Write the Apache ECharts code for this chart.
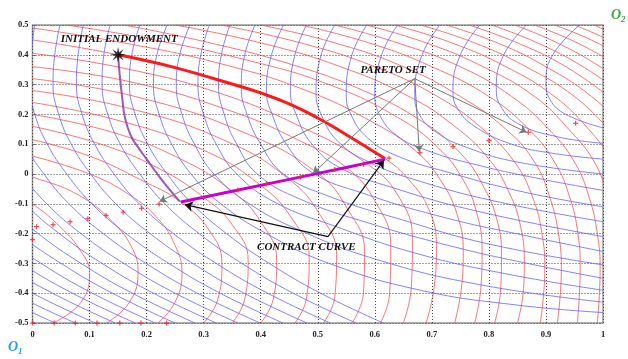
<!DOCTYPE html>
<html>
<head>
<meta charset="utf-8">
<script src="https://cdn.jsdelivr.net/npm/echarts@6/dist/echarts.min.js"></script>
<style>
  html, body { margin: 0; padding: 0; background: #fff; }
  #chart { width: 628px; height: 359px; }
</style>
</head>
<body>
<div id="chart"></div>
<script>
// ---- data ----
// red indifference curves (agent 2), each a list of [x, y] points
const redCurves = [
  [[-0.05,-0.04],[0,-0.1],[0.05,-0.18],[0.085,-0.26],[0.1,-0.33],[0.085,-0.43],[0.036,-0.5]],
  [[-0.05,0.02],[0,-0.01],[0.08,-0.07],[0.14,-0.16],[0.175,-0.25],[0.185,-0.33],[0.17,-0.43],[0.13,-0.5]],
  [[0,0.06],[0.1,0],[0.17,-0.07],[0.22,-0.15],[0.25,-0.24],[0.262,-0.33],[0.25,-0.43],[0.22,-0.5]],
  [[0,0.115],[0.1,0.06],[0.19,-0.02],[0.26,-0.094],[0.31,-0.19],[0.332,-0.3],[0.325,-0.42],[0.3,-0.5]],
  [[0,0.16],[0.12,0.1],[0.22,0.02],[0.3,-0.078],[0.35,-0.17],[0.378,-0.29],[0.372,-0.42],[0.35,-0.5]],
  [[0,0.2],[0.14,0.14],[0.26,0.05],[0.35,-0.058],[0.4,-0.16],[0.428,-0.29],[0.422,-0.42],[0.4,-0.5]],
  [[0,0.24],[0.15,0.18],[0.3,0.08],[0.4,-0.038],[0.455,-0.15],[0.485,-0.28],[0.48,-0.42],[0.46,-0.5]],
  [[0,0.28],[0.17,0.22],[0.34,0.11],[0.45,-0.018],[0.505,-0.14],[0.533,-0.27],[0.53,-0.41],[0.51,-0.5]],
  [[0,0.32],[0.18,0.26],[0.37,0.14],[0.5,0.002],[0.553,-0.12],[0.582,-0.26],[0.58,-0.4],[0.56,-0.5]],
  [[0,0.36],[0.17,0.31],[0.35,0.21],[0.47,0.11],[0.55,0.022],[0.6,-0.09],[0.628,-0.24],[0.626,-0.4],[0.61,-0.5]],
  [[0,0.405],[0.16,0.355],[0.33,0.27],[0.48,0.15],[0.585,0.036],[0.64,-0.07],[0.666,-0.22],[0.664,-0.38],[0.65,-0.5]],
  [[0,0.45],[0.15,0.4],[0.3,0.33],[0.45,0.235],[0.55,0.13],[0.618,0.052],[0.66,-0.02],[0.695,-0.12],[0.708,-0.24],[0.704,-0.38],[0.69,-0.5]],
  [[0,0.49],[0.16,0.44],[0.33,0.37],[0.48,0.28],[0.6,0.17],[0.67,0.08],[0.715,-0.02],[0.745,-0.14],[0.755,-0.26],[0.752,-0.38],[0.74,-0.5]],
  [[0.06,0.5],[0.2,0.455],[0.37,0.385],[0.52,0.3],[0.64,0.19],[0.71,0.09],[0.755,-0.02],[0.78,-0.14],[0.788,-0.26],[0.786,-0.38],[0.775,-0.5]],
  [[0.16,0.5],[0.3,0.445],[0.45,0.37],[0.58,0.28],[0.68,0.18],[0.75,0.07],[0.79,-0.04],[0.815,-0.16],[0.822,-0.28],[0.82,-0.4],[0.81,-0.5]],
  [[0.25,0.5],[0.4,0.44],[0.54,0.36],[0.66,0.26],[0.74,0.16],[0.8,0.05],[0.835,-0.06],[0.856,-0.18],[0.862,-0.3],[0.86,-0.4],[0.85,-0.5]],
  [[0.33,0.5],[0.47,0.44],[0.6,0.36],[0.71,0.26],[0.79,0.15],[0.845,0.04],[0.877,-0.08],[0.893,-0.2],[0.898,-0.32],[0.89,-0.5]],
  [[0.4,0.5],[0.53,0.44],[0.65,0.36],[0.75,0.26],[0.83,0.15],[0.88,0.04],[0.907,-0.08],[0.922,-0.2],[0.927,-0.32],[0.92,-0.5]],
  [[0.47,0.5],[0.59,0.44],[0.7,0.36],[0.8,0.26],[0.87,0.15],[0.915,0.04],[0.942,-0.08],[0.956,-0.2],[0.96,-0.32],[0.955,-0.5]],
  [[0.53,0.5],[0.64,0.44],[0.75,0.36],[0.84,0.26],[0.905,0.15],[0.95,0.04],[0.976,-0.08],[0.99,-0.2],[0.995,-0.32],[0.99,-0.5]],
  [[0.585,0.5],[0.69,0.44],[0.79,0.36],[0.88,0.26],[0.94,0.15],[0.985,0.04],[1.01,-0.08]],
  [[0.635,0.5],[0.735,0.44],[0.83,0.36],[0.915,0.26],[0.975,0.15],[1.02,0.04]],
  [[0.68,0.5],[0.775,0.44],[0.865,0.36],[0.95,0.26],[1.01,0.15]],
  [[0.725,0.5],[0.815,0.44],[0.9,0.36],[0.98,0.26],[1.04,0.15]],
  [[0.765,0.5],[0.85,0.44],[0.935,0.36],[1.01,0.26]],
  [[0.805,0.5],[0.885,0.44],[0.965,0.36],[1.04,0.26]],
  [[0.845,0.5],[0.92,0.44],[0.995,0.36],[1.07,0.26]],
  [[0.88,0.5],[0.955,0.44],[1.03,0.36]],
  [[0.915,0.5],[0.99,0.44],[1.06,0.36]],
  [[0.95,0.5],[1.02,0.44],[1.09,0.36]],
  [[0.985,0.5],[1.05,0.44]]
];

// blue indifference curves (agent 1)
const blueCurves = [
  [[0.959,0.5],[0.912,0.4],[0.9,0.31],[0.907,0.25],[0.935,0.2],[1.0,0.155]],
  [[0.866,0.5],[0.826,0.4],[0.813,0.29],[0.82,0.23],[0.85,0.17],[0.92,0.125],[1.0,0.103]],
  [[0.784,0.5],[0.75,0.4],[0.737,0.28],[0.745,0.22],[0.775,0.16],[0.84,0.1],[0.91,0.07],[1.0,0.05]],
  [[0.714,0.5],[0.683,0.4],[0.67,0.27],[0.678,0.2],[0.708,0.14],[0.76,0.09],[0.85,0.04],[1.0,0]],
  [[0.64,0.5],[0.612,0.4],[0.6,0.27],[0.608,0.2],[0.638,0.13],[0.69,0.08],[0.78,0.03],[0.9,-0.02],[1.0,-0.055]],
  [[0.586,0.5],[0.56,0.4],[0.55,0.27],[0.558,0.2],[0.588,0.12],[0.64,0.06],[0.73,0.005],[0.86,-0.06],[1.0,-0.11]],
  [[0.53,0.5],[0.506,0.4],[0.497,0.27],[0.506,0.2],[0.535,0.11],[0.59,0.04],[0.68,-0.025],[0.82,-0.095],[1.0,-0.16]],
  [[0.48,0.5],[0.46,0.4],[0.452,0.28],[0.462,0.2],[0.49,0.1],[0.54,0.02],[0.63,-0.045],[0.78,-0.125],[1.0,-0.21]],
  [[0.44,0.5],[0.419,0.4],[0.41,0.28],[0.42,0.2],[0.445,0.1],[0.49,0.005],[0.58,-0.065],[0.72,-0.145],[0.86,-0.205],[1.0,-0.26]],
  [[0.39,0.5],[0.372,0.4],[0.366,0.29],[0.376,0.2],[0.4,0.1],[0.44,0],[0.52,-0.075],[0.65,-0.155],[0.8,-0.235],[1.0,-0.305]],
  [[0.346,0.5],[0.331,0.4],[0.326,0.3],[0.336,0.2],[0.358,0.1],[0.394,0],[0.47,-0.085],[0.59,-0.165],[0.74,-0.245],[0.88,-0.305],[1.0,-0.35]],
  [[0.31,0.5],[0.295,0.4],[0.29,0.3],[0.3,0.2],[0.322,0.1],[0.358,0],[0.425,-0.095],[0.53,-0.175],[0.67,-0.265],[0.83,-0.335],[1.0,-0.39]],
  [[0.276,0.5],[0.258,0.4],[0.252,0.3],[0.262,0.2],[0.284,0.1],[0.318,0],[0.38,-0.1],[0.47,-0.19],[0.6,-0.285],[0.78,-0.37],[1.0,-0.43]],
  [[0.236,0.5],[0.218,0.4],[0.212,0.3],[0.222,0.2],[0.244,0.1],[0.278,0],[0.33,-0.1],[0.41,-0.2],[0.52,-0.3],[0.68,-0.39],[0.85,-0.44],[1.0,-0.465]],
  [[0.188,0.5],[0.174,0.4],[0.17,0.3],[0.18,0.2],[0.202,0.1],[0.236,0],[0.28,-0.1],[0.34,-0.2],[0.415,-0.3],[0.505,-0.4],[0.615,-0.5]],
  [[0.136,0.5],[0.125,0.4],[0.122,0.3],[0.132,0.2],[0.154,0.1],[0.188,0],[0.232,-0.1],[0.292,-0.2],[0.367,-0.3],[0.457,-0.4],[0.567,-0.5]],
  [[0.089,0.5],[0.08,0.4],[0.077,0.3],[0.087,0.2],[0.109,0.1],[0.143,0],[0.187,-0.1],[0.247,-0.2],[0.322,-0.3],[0.412,-0.4],[0.522,-0.5]],
  [[0.048,0.5],[0.039,0.4],[0.036,0.3],[0.046,0.2],[0.068,0.1],[0.102,0],[0.146,-0.1],[0.206,-0.2],[0.281,-0.3],[0.371,-0.4],[0.481,-0.5]],
  [[0.004,0.5],[-0.003,0.4],[-0.006,0.3],[0.004,0.2],[0.026,0.1],[0.06,0],[0.104,-0.1],[0.164,-0.2],[0.239,-0.3],[0.329,-0.4],[0.439,-0.5]],
  [[-0.046,0.3],[-0.036,0.2],[-0.014,0.1],[0.02,0],[0.064,-0.1],[0.124,-0.2],[0.199,-0.3],[0.289,-0.4],[0.399,-0.5]],
  [[-0.075,0.2],[-0.053,0.1],[-0.019,0],[0.025,-0.1],[0.085,-0.2],[0.16,-0.3],[0.25,-0.4],[0.36,-0.5]],
  [[-0.091,0.1],[-0.057,0],[-0.013,-0.1],[0.047,-0.2],[0.122,-0.3],[0.212,-0.4],[0.322,-0.5]],
  [[-0.094,0],[-0.05,-0.1],[0.01,-0.2],[0.085,-0.3],[0.175,-0.4],[0.285,-0.5]],
  [[-0.129,0],[-0.085,-0.1],[-0.025,-0.2],[0.05,-0.3],[0.14,-0.4],[0.25,-0.5]],
  [[-0.12,-0.1],[-0.06,-0.2],[0.015,-0.3],[0.105,-0.4],[0.215,-0.5]],
  [[-0.155,-0.1],[-0.095,-0.2],[-0.02,-0.3],[0.07,-0.4],[0.18,-0.5]],
  [[-0.13,-0.2],[-0.055,-0.3],[0.035,-0.4],[0.145,-0.5]],
  [[-0.165,-0.2],[-0.09,-0.3],[0,-0.4],[0.11,-0.5]],
  [[-0.125,-0.3],[-0.035,-0.4],[0.075,-0.5]],
  [[-0.16,-0.3],[-0.07,-0.4],[0.04,-0.5]],
  [[-0.105,-0.4],[0.005,-0.5]]
];

const thickRed = [[0.15,0.40],[0.2,0.38],[0.25,0.357],[0.3,0.33],[0.35,0.302],[0.4,0.272],[0.45,0.235],[0.5,0.188],[0.55,0.132],[0.59,0.085],[0.618,0.052]];
const contractLine = [[0.26,-0.094],[0.35,-0.058],[0.45,-0.018],[0.55,0.022],[0.618,0.05]];
const purpleCurve = [[0.15,0.40],[0.153,0.33],[0.157,0.26],[0.162,0.19],[0.172,0.13],[0.185,0.09],[0.2,0.05],[0.215,0.01],[0.235,-0.04],[0.258,-0.092]];
const paretoPts = [[0,-0.22],[0.007,-0.177],[0.036,-0.17],[0.066,-0.16],[0.097,-0.15],[0.129,-0.139],[0.159,-0.128],[0.191,-0.115],[0.222,-0.101],[0.3,-0.078],[0.36,-0.054],[0.41,-0.033],[0.47,-0.01],[0.53,0.015],[0.58,0.033],[0.625,0.053],[0.679,0.072],[0.737,0.092],[0.8,0.112],[0.869,0.14],[0.952,0.17]];
const bottomPts = [[0,-0.5],[0.038,-0.5],[0.075,-0.5],[0.113,-0.5],[0.153,-0.5],[0.19,-0.5],[0.235,-0.5]];
const endowment = [[0.15,0.40]];

const paretoApex = [0.67, 0.32];
const paretoTargets = [[0.223,-0.092],[0.492,0.003],[0.678,0.075],[0.866,0.14]];
const contractApex = [0.518, -0.21];
const contractTargets = [[0.267,-0.103],[0.616,0.046]];

// ---- chart ----
const chart = echarts.init(document.getElementById('chart'));
const serif = "'Liberation Serif', 'Times New Roman', serif";

const series = [];
redCurves.forEach(c => series.push({
  type: 'line', data: c, smooth: 0.45, symbol: 'none', silent: true,
  lineStyle: { color: 'rgba(255,70,70,0.75)', width: 1 }, z: 2
}));
blueCurves.forEach(c => series.push({
  type: 'line', data: c, smooth: 0.45, symbol: 'none', silent: true,
  lineStyle: { color: 'rgba(90,90,255,0.75)', width: 1 }, z: 2
}));
series.push({ type: 'line', data: purpleCurve, smooth: 0.5, symbol: 'none',
  lineStyle: { color: 'rgba(140,60,170,0.85)', width: 2 }, z: 4 });
series.push({ type: 'line', data: thickRed, smooth: 0.5, symbol: 'none',
  lineStyle: { color: '#ff1a1a', width: 3 }, z: 5 });
series.push({ type: 'line', data: contractLine, symbol: 'none',
  lineStyle: { color: '#cc00cc', width: 3 }, z: 5 });
series.push({ type: 'scatter', data: paretoPts.concat(bottomPts), symbolSize: 5,
  symbol: 'path://M-1 -4L1 -4L1 -1L4 -1L4 1L1 1L1 4L-1 4L-1 1L-4 1L-4 -1L-1 -1Z',
  itemStyle: { color: '#ff2020' }, z: 6 });
series.push({ type: 'scatter', data: endowment, symbolSize: 16,
  symbol: 'path://M10 0L3.2 1.3L7.07 7.07L1.3 3.2L0 10L-1.3 3.2L-7.07 7.07L-3.2 1.3L-10 0L-3.2 -1.3L-7.07 -7.07L-1.3 -3.2L0 -10L1.3 -3.2L7.07 -7.07L3.2 -1.3Z',
  itemStyle: { color: '#000' }, z: 8 });
series.push({ type: 'lines', coordinateSystem: 'cartesian2d', z: 7,
  symbol: ['none', 'arrow'], symbolSize: 7,
  lineStyle: { color: '#777', width: 1, opacity: 1 },
  data: paretoTargets.map(t => ({ coords: [paretoApex, t] })) });
series.push({ type: 'lines', coordinateSystem: 'cartesian2d', z: 7,
  symbol: ['none', 'arrow'], symbolSize: 8,
  lineStyle: { color: '#111', width: 1.2, opacity: 1 },
  data: contractTargets.map(t => ({ coords: [contractApex, t] })) });

const axisLabel = { color: '#222', fontFamily: serif, fontWeight: 'bold', fontSize: 8.5 };
chart.setOption({
  animation: false,
  grid: { left: 32.5, right: 25, top: 25, bottom: 36, show: true, borderColor: '#999', borderWidth: 1.5 },
  xAxis: {
    type: 'value', min: 0, max: 1, interval: 0.1,
    axisLine: { show: false }, axisTick: { inside: true, length: 3, lineStyle: { color: '#666' } },
    axisLabel: Object.assign({ margin: 7, formatter: v => String(+v.toFixed(1)) }, axisLabel),
    splitLine: { lineStyle: { color: '#444', type: [1, 2], width: 1 } }
  },
  yAxis: {
    type: 'value', min: -0.5, max: 0.5, interval: 0.1,
    axisLine: { show: false }, axisTick: { inside: true, length: 3, lineStyle: { color: '#666' } },
    axisLabel: Object.assign({ margin: 4, formatter: v => String(+v.toFixed(1)) }, axisLabel),
    splitLine: { lineStyle: { color: '#444', type: [1, 2], width: 1 } }
  },
  series: series
});

// text annotations anchored to data coordinates
const px = p => chart.convertToPixel({ gridIndex: 0 }, p);
const lab = (txt, p) => {
  const q = px(p);
  return { type: 'text', x: q[0], y: q[1], z: 20,
    style: { text: txt, fill: '#111', font: 'italic bold 11px ' + serif, textAlign: 'center', textVerticalAlign: 'middle' } };
};
chart.setOption({
  graphic: [
    lab('INITIAL ENDOWMENT', [0.152, 0.453]),
    lab('PARETO SET', [0.632, 0.348]),
    lab('CONTRACT CURVE', [0.48, -0.245]),
    { type: 'text', x: 611, y: 7, style: { text: '{o|O}{s|2}', rich: {
        o: { font: 'italic bold 14px ' + serif, fill: '#3aa845' },
        s: { font: 'italic bold 9px ' + serif, fill: '#3aa845', padding: [8, 0, 0, 0] } } } },
    { type: 'text', x: 8, y: 339, style: { text: '{o|O}{s|1}', rich: {
        o: { font: 'italic bold 14px ' + serif, fill: '#2a9ee0' },
        s: { font: 'italic bold 9px ' + serif, fill: '#2a9ee0', padding: [8, 0, 0, 0] } } } }
  ]
});
</script>
</body>
</html>
